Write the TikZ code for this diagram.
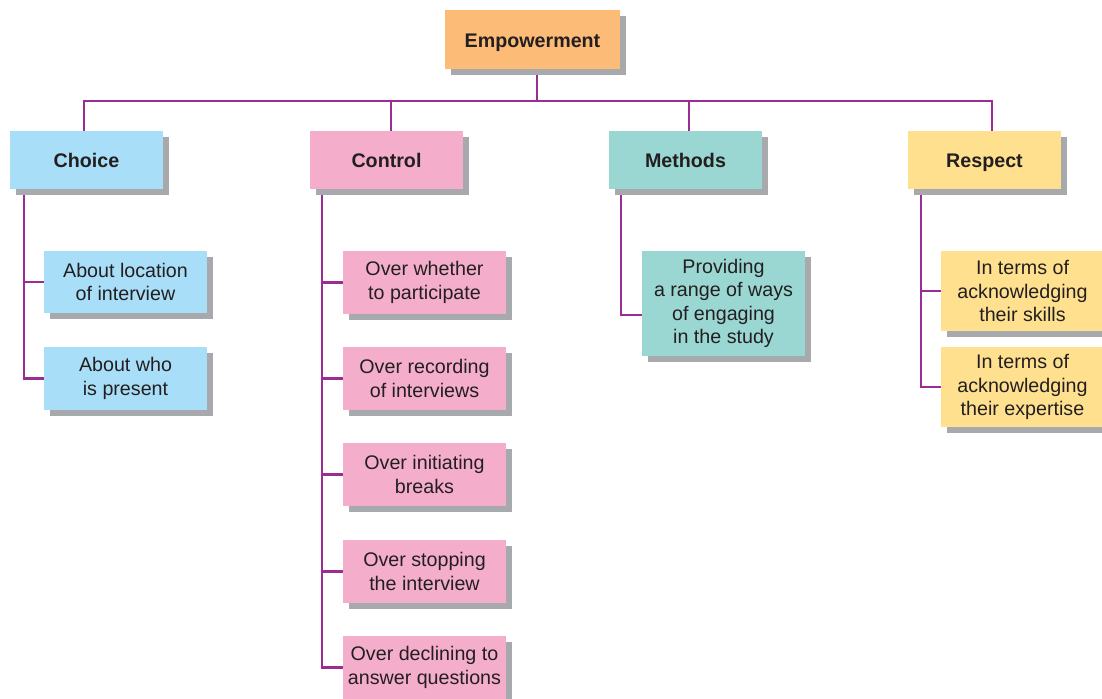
\documentclass[tikz,border=0pt]{standalone}
\usepackage{fontspec}
\setmainfont{Liberation Sans}
\usepackage{xcolor}
\definecolor{empfill}{HTML}{FDBB78}
\definecolor{choicefill}{HTML}{A8DEF8}
\definecolor{controlfill}{HTML}{F4AECB}
\definecolor{methodfill}{HTML}{9AD6D2}
\definecolor{respectfill}{HTML}{FEE08F}
\definecolor{shadowgray}{HTML}{A7A9AC}
\definecolor{linkpurple}{HTML}{9B2C93}
\definecolor{textdark}{HTML}{231F20}
\usetikzlibrary{positioning,shadows,backgrounds,calc}

\begin{document}
\begin{tikzpicture}[x=0.02cm, y=-0.02cm,
  box/.style={inner sep=0pt, align=center, text=textdark,
              font=\fontsize{11.2}{13.2}\selectfont,
              drop shadow={shadow xshift=0.12cm, shadow yshift=-0.12cm,
                           fill=shadowgray, opacity=1}},
  head/.style={box, font=\fontsize{11.2}{13.2}\selectfont\bfseries,
               text height=1.1em, text depth=0.2em,
               minimum width=3.5cm, minimum height=1.18cm},
  cat/.style={box, font=\fontsize{11.2}{13.2}\selectfont\bfseries,
              text height=1.1em, text depth=0.2em,
              minimum width=3.06cm, minimum height=1.16cm},
  item/.style={box, minimum width=3.26cm, minimum height=1.25cm},
  link/.style={draw=linkpurple, line width=1.2pt}
]
  \useasboundingbox (0,0) rectangle (1102,699);

  % top and categories
  \node[head,fill=empfill] (emp) at (532.5,39.5) {Empowerment};
  \node[cat,fill=choicefill] (choice) at (86.5,160) {Choice};
  \node[cat,fill=controlfill] (control) at (386.5,160) {Control};
  \node[cat,fill=methodfill] (methods) at (685.5,160) {Methods};
  \node[cat,fill=respectfill] (respect) at (984.5,160) {Respect};

  % choice items
  \node[item,fill=choicefill] (loc) at (125.5,282) {About location\\of interview};
  \node[item,fill=choicefill] (who) at (125.5,378.5) {About who\\is present};

  % control items
  \node[item,fill=controlfill] (part) at (424.5,282.5) {Over whether\\to participate};
  \node[item,fill=controlfill] (rec) at (424.5,378.5) {Over recording\\of interviews};
  \node[item,fill=controlfill] (brk) at (424.5,474.5) {Over initiating\\breaks};
  \node[item,fill=controlfill] (stop) at (424.5,571.5) {Over stopping\\the interview};
  \node[item,fill=controlfill] (decl) at (424.5,667.5) {Over declining to\\answer questions};

  % methods item
  \node[item,fill=methodfill,minimum height=2.1cm] (prov) at (723.5,303.5)
    {Providing\\a range of ways\\of engaging\\in the study};

  % respect items
  \node[item,fill=respectfill,minimum height=1.6cm] (skill) at (1022.5,291)
    {In terms of\\acknowledging\\their skills};
  \node[item,fill=respectfill,minimum height=1.6cm] (expert) at (1022.5,387)
    {In terms of\\acknowledging\\their expertise};

  \coordinate (hub) at (537,101);
  \coordinate (choicetop) at (84,101);
  \coordinate (controltop) at (391,101);
  \coordinate (methodstop) at (689,101);
  \coordinate (respecttop) at (992,101);
  \coordinate (choicetrunk) at (24,195);
  \coordinate (controltrunk) at (322,195);
  \coordinate (methodstrunk) at (621,195);
  \coordinate (respecttrunk) at (921,195);

  \begin{scope}[on background layer]
    \draw[link] (emp.south -| hub) -- (hub);
    \draw[link] (choicetop |- choice.north) -- (choicetop) -- (respecttop)
      -- (respecttop |- respect.north);
    \draw[link] (controltop) -- (controltop |- control.north);
    \draw[link] (methodstop) -- (methodstop |- methods.north);

    \draw[link] (choicetrunk) |- (loc.west);
    \draw[link] (choicetrunk) |- (who.west);
    \foreach \n in {part,rec,brk,stop,decl}
      \draw[link] (controltrunk) |- (\n.west);
    \draw[link] (methodstrunk) |- ([yshift=-0.23cm]prov.west);
    \draw[link] (respecttrunk) |- (skill.west);
    \draw[link] (respecttrunk) |- (expert.west);
  \end{scope}
\end{tikzpicture}
\end{document}
